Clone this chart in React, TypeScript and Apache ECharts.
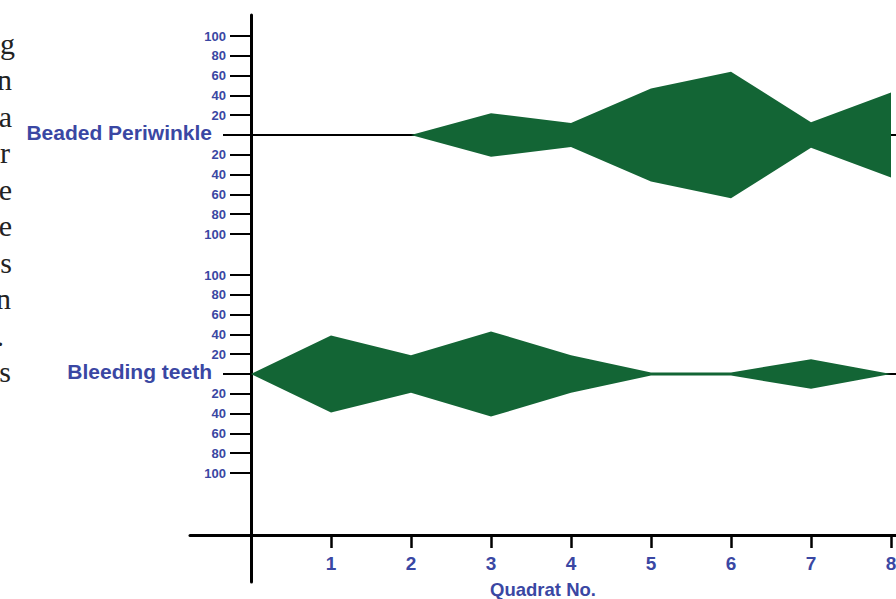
import React, { useEffect, useRef } from 'react';
import * as echarts from 'echarts';

// ---- data ----
const quadrats = [0, 1, 2, 3, 4, 5, 6, 7, 8];
const beadedPeriwinkle = [0, 0, 0, 22, 12, 47, 64, 13, 43];
const bleedingTeeth = [0, 39, 19, 43, 19, 1.5, 1.5, 15, 0];
const speciesNames = ['Beaded Periwinkle', 'Bleeding teeth'];
const xTickValues = [1, 2, 3, 4, 5, 6, 7, 8];
const xAxisTitle = 'Quadrat No.';
const sideTextLetters = ['g', 'n', 'a', 'r', 'e', 'e', 's', 'n', '.', 's'];

// ---- styling / layout ----
const BLUE = '#3a47a3';
const GREEN = '#136535';
const SANS = '"Liberation Sans", Arial, sans-serif';
const sideTextRight = [15, 12, 12, 10, 12, 12, 12, 11, 4, 11];

function kiteYAxes(gridIndex: number, name: string) {
  return [
    {
      gridIndex,
      type: 'value',
      position: 'left',
      min: -100,
      max: 100,
      interval: 20,
      axisLine: { show: true, onZero: false, lineStyle: { color: '#000', width: 3 } },
      axisTick: { show: true, length: 21, lineStyle: { color: '#000', width: 2 } },
      splitLine: { show: false },
      axisLabel: {
        margin: 25,
        color: BLUE,
        fontSize: 13,
        fontWeight: 'bold',
        fontFamily: SANS,
        formatter: (v: number) => (v === 0 ? `{n|${name}}` : String(Math.abs(v))),
        rich: {
          n: {
            fontSize: 21,
            fontWeight: 'bold',
            fontFamily: SANS,
            color: BLUE,
            padding: [0, 14, 6, 0],
          },
        },
      },
    },
    {
      // longer tick at the zero line
      gridIndex,
      type: 'value',
      position: 'left',
      min: -100,
      max: 100,
      axisLine: { show: false, onZero: false },
      axisTick: { show: true, customValues: [0], length: 28, lineStyle: { color: '#000', width: 2 } },
      axisLabel: { show: false },
      splitLine: { show: false },
    },
  ];
}

function kiteXAxis(gridIndex: number) {
  return {
    gridIndex,
    type: 'value',
    min: 0,
    max: 8.0625,
    axisLine: { show: true, onZero: true, lineStyle: { color: '#000', width: 2 } },
    axisTick: { show: false },
    axisLabel: { show: false },
    splitLine: { show: false },
  };
}

function kiteSeries(axisIndex: number, values: number[]) {
  const base = {
    type: 'line',
    xAxisIndex: axisIndex,
    yAxisIndex: axisIndex * 2,
    symbol: 'none',
    silent: true,
    lineStyle: { width: 0, color: GREEN },
    areaStyle: { color: GREEN, opacity: 1 },
    z: 3,
  };
  return [
    { ...base, data: quadrats.map((q, i) => [q, values[i]]) },
    { ...base, data: quadrats.map((q, i) => [q, -values[i]]) },
  ];
}

const gridBase = { outerBoundsMode: 'none', containLabel: false };

export default function App() {
  const ref = useRef<HTMLDivElement>(null);
  useEffect(() => {
    if (!ref.current) return;
    const chart = echarts.init(ref.current, null, { renderer: 'svg' });
    chart.setOption({
      animation: false,
      backgroundColor: '#fff',
      grid: [
        { ...gridBase, left: 251, right: 0, top: 36, height: 198 },
        { ...gridBase, left: 251, right: 0, top: 275, height: 198 },
        { ...gridBase, left: 190, right: 0, top: 15, bottom: 64 },
        { ...gridBase, left: 251, right: 0, top: 15, bottom: 17 },
      ],
      xAxis: [
        kiteXAxis(0),
        kiteXAxis(1),
        {
          gridIndex: 2,
          type: 'value',
          position: 'bottom',
          min: -0.7625,
          max: 8.0625,
          axisLine: { show: true, onZero: false, lineStyle: { color: '#000', width: 3 } },
          axisTick: { show: true, customValues: xTickValues, length: 13, lineStyle: { color: '#000', width: 2.5 } },
          axisLabel: {
            customValues: xTickValues,
            formatter: (v: number) => String(v),
            margin: 19,
            color: BLUE,
            fontFamily: SANS,
            fontWeight: 'bold',
            fontSize: 19,
          },
          splitLine: { show: false },
          name: xAxisTitle,
          nameLocation: 'middle',
          nameGap: 45,
          nameTextStyle: { color: BLUE, fontFamily: SANS, fontWeight: 'bold', fontSize: 18.5 },
        },
        { gridIndex: 3, type: 'value', min: 0, max: 1, show: false },
      ],
      yAxis: [
        ...kiteYAxes(0, speciesNames[0]),
        ...kiteYAxes(1, speciesNames[1]),
        { gridIndex: 2, type: 'value', min: 0, max: 1, show: false },
        {
          gridIndex: 3,
          type: 'value',
          position: 'left',
          min: 0,
          max: 1,
          axisLine: { show: true, onZero: false, lineStyle: { color: '#000', width: 3 } },
          axisTick: { show: false },
          axisLabel: { show: false },
          splitLine: { show: false },
        },
      ],
      series: [...kiteSeries(0, beadedPeriwinkle), ...kiteSeries(1, bleedingTeeth)],
      graphic: sideTextLetters.map((ch, i) => ({
        type: 'text',
        silent: true,
        style: {
          text: ch,
          x: sideTextRight[i],
          y: 43 + 36.5 * i,
          textAlign: 'right',
          textVerticalAlign: 'middle',
          font: '30px "Liberation Serif", "Times New Roman", serif',
          fill: '#222',
        },
      })),
    });
    return () => chart.dispose();
  }, []);
  return <div ref={ref} style={{ position: 'fixed', left: 0, top: 0, width: 896, height: 599 }} />;
}
